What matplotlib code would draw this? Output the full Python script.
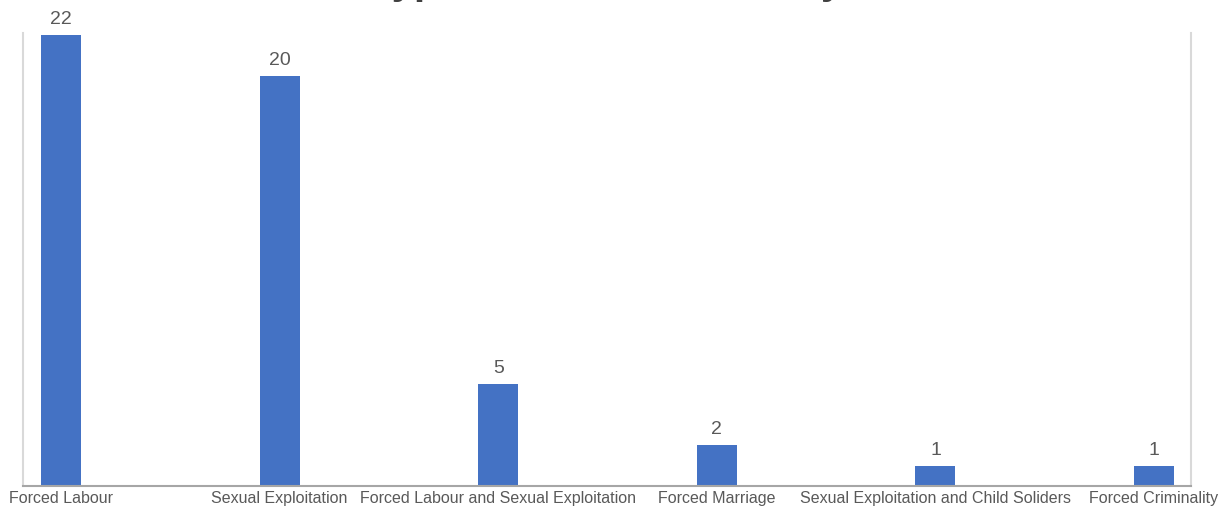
import matplotlib
matplotlib.use("Agg")
import matplotlib.pyplot as plt

categories = [
    "Forced Labour",
    "Sexual Exploitation",
    "Forced Labour and Sexual Exploitation",
    "Forced Marriage",
    "Sexual Exploitation and Child Soliders",
    "Forced Criminality",
]
counts = [22, 20, 5, 2, 1, 1]
title = "Types of Modern Slavery"

plt.rcParams["font.family"] = ["Liberation Sans", "DejaVu Sans"]

W, H = 1226, 510
fig = plt.figure(figsize=(W / 100, H / 100), dpi=100)
ax = fig.add_axes([23 / W, (H - 487) / H, (1191 - 23) / W, (487 - 34) / H])

x = list(range(len(categories)))
bars = ax.bar(x, counts, width=0.183, color="#4472C4", zorder=3)

for rect, v in zip(bars, counts):
    ax.annotate(str(v), (rect.get_x() + rect.get_width() / 2, rect.get_height()),
                xytext=(0, 8), textcoords="offset pixels",
                ha="center", va="bottom", fontsize=14, color="#595959")

ax.set_xlim(-0.174, len(categories) - 1 + 0.169)
ax.set_ylim(0, 22.1)
ax.set_xticks(x)
ax.set_xticklabels(categories, fontsize=11.5, color="#595959")
ax.tick_params(axis="x", length=0, pad=3)
ax.set_yticks([])

ax.spines["top"].set_visible(False)
for side in ("left", "right"):
    ax.spines[side].set_color("#d9d9d9")
    ax.spines[side].set_linewidth(1.5)
ax.spines["bottom"].set_color("#a6a6a6")
ax.spines["bottom"].set_linewidth(1.5)
ax.spines["bottom"].set_zorder(4)

# Title sits mostly above the canvas; only its descenders reach into view
fig.text(0.495, 1 + 6 / H, title, ha="center", va="baseline",
         fontsize=29, fontweight="bold", color="#404040")

fig.savefig("out.png", dpi=100)
